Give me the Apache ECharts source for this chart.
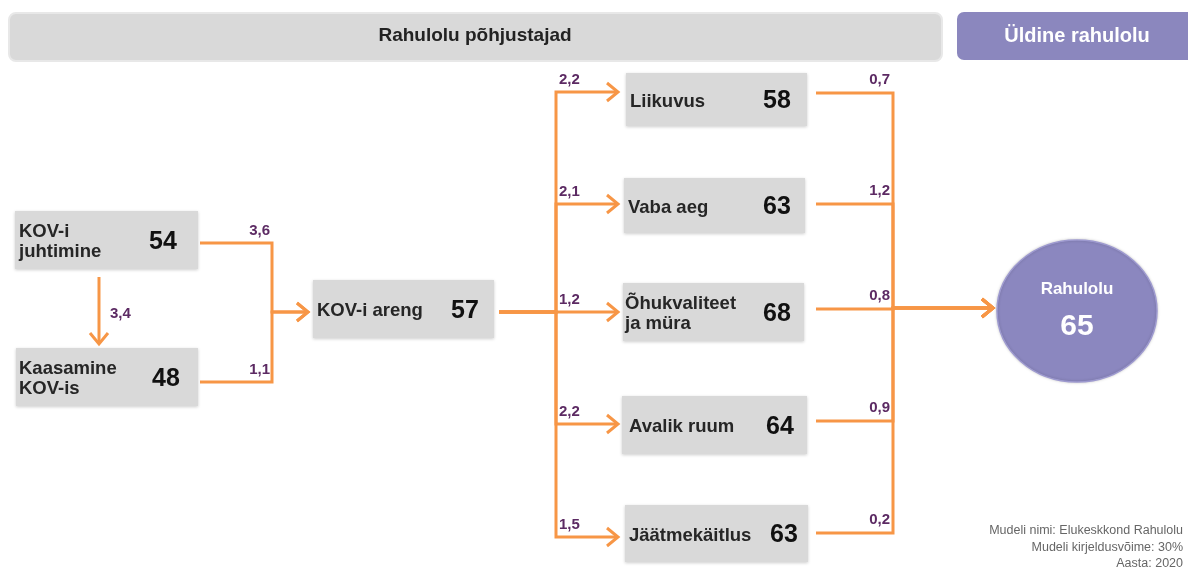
<!DOCTYPE html>
<html>
<head>
<meta charset="utf-8">
<script src="https://cdn.jsdelivr.net/npm/echarts@6/dist/echarts.min.js"></script>
<style>html,body{margin:0;padding:0;background:#fff}#chart{width:1188px;height:568px}</style>
</head>
<body>
<div id="chart"></div>
<script>
// andmed
var nodeNames = ['KOV-i\njuhtimine', 'Kaasamine\nKOV-is', 'KOV-i areng', 'Liikuvus', 'Vaba aeg', 'Õhukvaliteet\nja müra', 'Avalik ruum', 'Jäätmekäitlus'];
var nodeScores = [54, 48, 57, 58, 63, 68, 64, 63];
var totalName = 'Rahulolu';
var totalScore = 65;
var mgmtToInvolve = 3.4;
var toDevelopment = [3.6, 1.1];
var devToArea = [2.2, 2.1, 1.2, 2.2, 1.5];
var areaToTotal = [0.7, 1.2, 0.8, 0.9, 0.2];
var headerLeft = 'Rahulolu põhjustajad';
var headerRight = 'Üldine rahulolu';
var footerLines = ['Mudeli nimi: Elukeskkond Rahulolu', 'Mudeli kirjeldusvõime: 30%', 'Aasta: 2020'];

// paigutus pikslites
var boxLayout = [
    [15, 211, 183, 58], [16, 348, 182, 58], [313, 280, 181, 58],
    [626, 73, 181, 53], [624, 178, 181, 55], [623, 283, 181, 58], [622, 396, 185, 58], [625, 505, 183, 57]
];
var nameOffset = [4, 3, 4, 4, 4, 2, 7, 4];
var valueOffset = [35, 32, 29, 30, 28, 27, 27, 24];
var circleLayout = [1077, 311, 80, 71];
var trunkX = [272, 556, 893];
var srcOutY = [243, 382];
var devY = 312;
var areaInY = [92, 204, 312, 424, 537];
var areaOutY = [93, 204, 309, 421, 533];
var totalInY = 308;

var orange = '#f79646';
var purple = '#5c2a63';
var font = '"Liberation Sans", Arial, sans-serif';

function fmt(v) { return v.toFixed(1).replace('.', ','); }

// ühendused
var links = [];
links.push({ v: mgmtToInvolve, pts: [[99, 277], [99, 344]], lab: [110, 314, 'left'] });
toDevelopment.forEach(function (v, i) {
    links.push({ v: v, pts: [[200, srcOutY[i]], [trunkX[0], srcOutY[i]], [trunkX[0], devY], [308, devY]],
        lab: [trunkX[0] - 2, srcOutY[i] - 12, 'right'] });
});
devToArea.forEach(function (v, i) {
    links.push({ v: v, pts: [[499, devY], [trunkX[1], devY], [trunkX[1], areaInY[i]], [618, areaInY[i]]],
        lab: [trunkX[1] + 3, areaInY[i] - 12, 'left'] });
});
areaToTotal.forEach(function (v, i) {
    links.push({ v: v, pts: [[816, areaOutY[i]], [trunkX[2], areaOutY[i]], [trunkX[2], totalInY], [993, totalInY]],
        lab: [trunkX[2] - 3, areaOutY[i] - 13, 'right'] });
});

function renderBox(params, api) {
    var i = api.value(0);
    var b = boxLayout[i];
    var p0 = api.coord([b[0], b[1]]);
    var p1 = api.coord([b[0] + b[2], b[1] + b[3]]);
    var w = p1[0] - p0[0], h = p1[1] - p0[1];
    return { type: 'group', children: [
        { type: 'rect', shape: { x: p0[0], y: p0[1], width: w, height: h },
          style: { fill: '#d9d9d9', shadowBlur: 3, shadowColor: 'rgba(0,0,0,0.2)', shadowOffsetY: 1 } },
        { type: 'text', x: p0[0] + nameOffset[i], y: p0[1] + h / 2 + 2,
          style: { text: nodeNames[i], font: 'bold 18.5px ' + font, fill: '#262626', align: 'left', verticalAlign: 'middle', lineHeight: 20 } },
        { type: 'text', x: p1[0] - valueOffset[i], y: p0[1] + h / 2 + 2,
          style: { text: String(api.value(1)), font: 'bold 25px ' + font, fill: '#111', align: 'center', verticalAlign: 'middle' } }
    ] };
}

function renderCircle(params, api) {
    var c = api.coord([circleLayout[0], circleLayout[1]]);
    return { type: 'group', children: [
        { type: 'ellipse', shape: { cx: c[0], cy: c[1], rx: circleLayout[2], ry: circleLayout[3] },
          style: { fill: '#8b87bf', stroke: '#9e9ad0', lineWidth: 1.5, shadowBlur: 3, shadowColor: 'rgba(0,0,0,0.2)' } },
        { type: 'text', x: c[0], y: c[1] - 22,
          style: { text: totalName, font: 'bold 17px ' + font, fill: '#fff', align: 'center', verticalAlign: 'middle' } },
        { type: 'text', x: c[0], y: c[1] + 16,
          style: { text: String(api.value(1)), font: 'bold 30px ' + font, fill: '#fff', align: 'center', verticalAlign: 'middle' } }
    ] };
}

function renderLink(params, api) {
    var l = links[api.value(0)];
    var pts = l.pts.map(function (p) { return api.coord(p); });
    var e = pts[pts.length - 1], s = pts[pts.length - 2];
    var dx = e[0] - s[0], dy = e[1] - s[1], len = Math.sqrt(dx * dx + dy * dy);
    dx /= len; dy /= len;
    var head = [[e[0] - 11 * dx - 9 * dy, e[1] - 11 * dy + 9 * dx], e, [e[0] - 11 * dx + 9 * dy, e[1] - 11 * dy - 9 * dx]];
    var lp = api.coord([l.lab[0], l.lab[1]]);
    return { type: 'group', children: [
        { type: 'polyline', shape: { points: pts }, style: { stroke: orange, lineWidth: 3, fill: null } },
        { type: 'polyline', shape: { points: head }, style: { stroke: orange, lineWidth: 3, fill: null, lineJoin: 'miter' } },
        { type: 'text', x: lp[0], y: lp[1],
          style: { text: fmt(api.value(1)), font: 'bold 15px ' + font, fill: purple, align: l.lab[2], verticalAlign: 'middle' } }
    ] };
}

var chart = echarts.init(document.getElementById('chart'));
var option = {
    animation: false,
    grid: { left: 0, right: 0, top: 0, bottom: 0 },
    xAxis: { type: 'value', min: 0, max: 1188, show: false },
    yAxis: { type: 'value', min: 0, max: 568, inverse: true, show: false },
    graphic: [
        { type: 'rect', left: 8, top: 12, shape: { width: 933, height: 48, r: 7 },
          style: { fill: '#d9d9d9', stroke: '#e8e8e8', lineWidth: 2 } },
        { type: 'text', x: 475, y: 36, style: { text: headerLeft, font: 'bold 19px ' + font, fill: '#222', align: 'center', verticalAlign: 'middle' } },
        { type: 'rect', left: 957, top: 12, shape: { width: 240, height: 48, r: 7 },
          style: { fill: '#8b87be' } },
        { type: 'text', x: 1077, y: 36, style: { text: headerRight, font: 'bold 20px ' + font, fill: '#fff', align: 'center', verticalAlign: 'middle' } },
        { type: 'text', x: 1183, y: 531, style: { text: footerLines[0], font: '12.5px ' + font, fill: '#666', align: 'right', verticalAlign: 'middle' } },
        { type: 'text', x: 1183, y: 548, style: { text: footerLines[1], font: '12.5px ' + font, fill: '#666', align: 'right', verticalAlign: 'middle' } },
        { type: 'text', x: 1183, y: 564, style: { text: footerLines[2], font: '12.5px ' + font, fill: '#666', align: 'right', verticalAlign: 'middle' } }
    ],
    series: [
        { type: 'custom', name: 'seosed', renderItem: renderLink,
          data: links.map(function (l, i) { return [i, l.v]; }) },
        { type: 'custom', name: 'tegurid', renderItem: renderBox,
          data: nodeScores.map(function (v, i) { return [i, v]; }) },
        { type: 'custom', name: 'rahulolu', renderItem: renderCircle,
          data: [[0, totalScore]] }
    ]
};
chart.setOption(option);
</script>
</body>
</html>
